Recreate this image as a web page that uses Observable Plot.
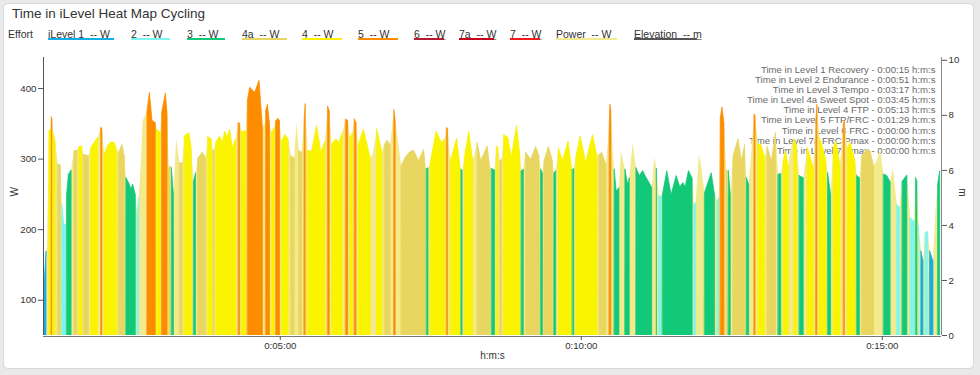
<!DOCTYPE html>
<html><head><meta charset="utf-8">
<script src="https://cdn.jsdelivr.net/npm/d3@7"></script>
<script src="https://cdn.jsdelivr.net/npm/@observablehq/plot@0.6"></script>
<style>
html,body{margin:0;padding:0;background:#e9e9e9;}
body{width:980px;height:375px;overflow:hidden;position:relative;font-family:"Liberation Sans",Arial,sans-serif;}
#card{position:absolute;left:3px;top:3px;width:969px;height:364px;background:#fff;border:1px solid #d8d8d8;border-radius:5px;}
#header{position:absolute;left:0;top:0;width:980px;height:48px;}
#title{position:absolute;left:12px;top:6px;font-size:13.5px;color:#333;white-space:pre;}
.leg{position:absolute;top:28px;font-size:10.5px;color:#333;white-space:pre;}
.leg span{text-decoration:underline;text-decoration-color:#888;}
.bar{position:absolute;top:38px;height:2px;}
#chart{position:absolute;left:0;top:48px;}
</style></head>
<body>
<div id="card"></div>
<div id="header"><div id="title">Time in iLevel Heat Map Cycling</div></div>
<div id="chart"></div>
<script>
// ---- data ----
const sec = [65,67,68,70,71.5,72.3,73,74,76,78.7,81.3,82.7,84.7,86.7,87.5,89.3,92,93.3,95,97.7,100,102.7,104.3,109.3,111.7,115,118.3,121.7,122.7,125,128.3,131.7,135,137.3,139.3,142.7,145,146.7,149.3,151.7,153.3,156,157.7,159.3,161.7,163.3,167.7,170,172.7,176,177.3,180.7,182.3,186,187.7,189.3,190.5,192,194,196.7,200,202.7,205,209.3,211.7,214,216,218.3,222.7,226,228.3,231.7,233.3,234.5,236,240,242.7,245,247.3,250,252.7,256,258.7,260,261.7,266,267.7,270,275,279.3,282.7,285,286,287.7,289.7,291.7,294.3,296,298.3,299.7,301.7,305,308.3,311,314.3,316.7,319,321.7,324.3,325.3,327.7,331.7,336.7,341,345,347.7,349.3,351.7,355.7,359,362.3,365.7,367.7,370,372.3,374.3,376,378.3,383.3,390,392.5,396.7,401.7,404.3,406.7,410,413.7,415,417.3,421,425,429,433.3,438.3,443.3,445,446.3,447.7,450,455.7,461,464.3,466.3,467.3,470,476.3,479.7,480.7,481.7,484,488.3,492.3,496.7,500.3,506.7,509,511,514,516,517.3,519.3,521,523.3,527.3,530.7,536,539.3,540.7,542.7,545,550,555,558.3,560,561.7,563.3,567.7,571.7,573.3,575,577.7,581.7,587.3,590.7,591.7,593,595,599.3,605,608.3,611.7,616,618.3,620.7,625,628.3,629,630,631.7,633.3,635.3,638,640,644,646.7,648.3,651.7,655,658.3,661.7,664,667.3,670.7,673.3,675.3,677.7,680,681.3,685.7,690,695,698.7,701.7,704,707.3,711,712.7,714.5,717.7,720,723.3,730,733.3,736,737.5,739,740.7,742.7,745,747,749,751.7,756.7,760,763.3,765,767.3,770,772.7,773.7,776.7,779.3,783.3,785.7,790,794,796.7,799.3,801.7,804,806.7,809.5,812.3,815,817.7,821.7,825.7,831.7,834.3,835.3,837.7,841,844.3,846,849,851.7,854.3,858.3,861.7,862.7,865.7,868.3,873.3,875,877.7,880,885,888.3,891.7,895,898.3,901.7,905,908.3,911,915,917.7,920.3,925,928.3,932.3,933.7,935,936.7,939,941,943.3,945.7,947.7,951,953.5,955.7,957.7];
const watts = [122,169,174,340,342,359,356,337,325,292,291,235,207,207,249,278,284,297,311,312,317,318,306,304,316,323,330,344,343,306,318,324,323,313,309,320,304,273,266,257,264,249,221,245,297,353,368,394,354,351,342,337,366,393,363,287,290,287,249,328,294,294,332,337,316,268,280,301,309,302,331,328,311,313,323,332,323,339,330,342,316,328,351,350,339,339,383,401,394,411,344,349,368,377,349,337,344,354,357,354,325,334,328,304,301,351,311,309,356,378,311,311,347,309,325,374,368,320,328,323,337,356,354,330,337,356,351,320,342,302,305,342,309,320,326,320,369,354,330,290,302,309,312,297,313,288,286,287,294,339,323,328,344,342,297,329,287,285,283,302,339,297,323,297,318,290,286,284,318,316,297,299,334,330,302,347,304,283,285,309,299,317,304,285,280,297,317,297,280,283,315,297,325,287,285,286,302,332,294,316,334,304,306,309,292,344,377,367,313,285,254,259,311,285,263,273,323,287,276,283,276,268,259,302,286,247,247,249,283,249,276,260,266,260,283,272,235,238,306,290,252,280,249,240,245,358,373,350,283,283,249,304,328,297,320,273,264,311,363,360,321,320,302,317,297,337,278,279,297,311,290,315,328,320,276,273,316,287,354,377,330,316,297,280,249,316,325,292,349,354,316,323,297,276,273,304,313,311,290,297,313,278,276,267,287,235,231,268,277,216,211,273,268,205,169,155,195,197,169,155,226,264,283];
const zone = ["1","1","P","4","4","5","5","4","4","4a","4a","2","2","2","3","3","3","P","4a","4a","4","4","4a","4a","4","4","4","5","5","4","4","4","4","4","4a","4a","4a","3","3","3","3","3","2","2","P","P","5","5","5","5","4","4","5","5","5","4a","4a","3","3","P","4a","4a","4","4","4","3","3","4a","4a","4a","4","4","4a","4a","4","4","4","4","4","4","4","4","5","5","4","4","5","5","5","5","5","P","5","5","5","4","4","5","5","5","4","4","4","4a","4a","P","4a","4a","5","5","4","4","4","4","4","5","5","4","4","4","4","5","5","4","4","5","5","4","4","4","P","4","4","4a","4a","4a","5","5","P","4a","4a","4a","4a","4a","4a","4a","3","3","4","4","4","4","5","5","4","4","4","3","3","4","4","4","4a","4a","4a","4a","3","3","4","4","4a","4a","4","4","4","4","4","3","3","4a","4a","4a","4a","3","3","4a","4a","4a","3","3","4","4","4","4","3","3","4","4","4","4","4","4","4a","4a","4a","5","5","5","P","3","3","3","P","3","3","3","P","3","3","3","3","3","3","P","3","2","2","3","3","3","3","3","3","3","3","3","2","2","P","P","3","3","3","2","2","5","5","5","4a","3","3","4a","4a","4a","4a","3","3","P","5","5","4","4","4","4a","4a","4a","3","3","4","4","4","P","4","4","3","3","4","4","5","5","4","4","4","3","3","4","4","4","5","5","4","4","4","3","3","4a","4a","4a","4a","P","P","3","3","3","P","2","2","3","3","2","2","3","3","2","1","1","2","2","1","1","P","3","3"];

const zoneColors = {"1":"#14aee6","2":"#7ef6ef","3":"#12c97a","4a":"#e8d660","4":"#faf400","5":"#fd8c00","6":"#b51a30","7a":"#c4001a","7":"#f01a1a"};
const powerColor = "#f2ea8c";
const legendLabels = ["iLevel 1  -- W","2  -- W","3  -- W","4a  -- W","4  -- W","5  -- W","6  -- W","7a  -- W","7  -- W","Power  -- W","Elevation  -- m"];
const legendColors = ["#14aee6","#7ef6ef","#12c97a","#e8d660","#fff200","#fd8c00","#b51a30","#c4001a","#f01a1a","#f2ea8c","#555555"];
const summaryLabels = ["Time in Level 1 Recovery","Time in Level 2 Endurance","Time in Level 3 Tempo","Time in Level 4a Sweet Spot","Time in Level 4 FTP","Time in Level 5 FTP/FRC","Time in Level 6 FRC","Time in Level 7a FRC/Pmax","Time in Level 7 Pmax"];
const summaryTimes = ["0:00:15","0:00:51","0:03:17","0:03:45","0:05:13","0:01:29","0:00:00","0:00:00","0:00:00"];
const wTicks = [100,200,300,400];
const elevTicks = [0,2,4,6,8,10];
const timeTicks = [300,600,900];
const xDomain = [64,959];
const wDomain = [50,444];

// ---- legend (HTML) ----
const legLeft = [48,131,187,242,302,358,414,459,510,556,634];
const legBar = [66,39,38,45,40,40,30,35,30,61,63];
const header = document.getElementById("header");
const eff = document.createElement("div");
eff.className = "leg"; eff.style.left = "8px"; eff.textContent = "Effort";
header.appendChild(eff);
legendLabels.forEach((lab, i) => {
  const d = document.createElement("div");
  d.className = "leg"; d.style.left = legLeft[i] + "px";
  const s = document.createElement("span"); s.textContent = lab; d.appendChild(s);
  header.appendChild(d);
  const b = document.createElement("div");
  b.className = "bar"; b.style.left = legLeft[i] + "px"; b.style.width = legBar[i] + "px";
  b.style.background = legendColors[i];
  header.appendChild(b);
});

// ---- build series ----
const pts = sec.map((t, i) => ({t, w: watts[i], z: zone[i]}));
let run = 0;
pts.forEach((p, i) => { if (i > 0 && p.z !== pts[i-1].z) run++; p.run = run; p.color = zoneColors[p.z] || null; });
const colored = pts.filter(p => p.z !== "P");

const hms = s => `${Math.floor(s/3600)}:${String(Math.floor(s%3600/60)).padStart(2,"0")}:${String(Math.round(s%60)).padStart(2,"0")}`;
const elevToW = e => wDomain[0] + e * 39;
const summary = summaryLabels.map((l, i) => `${l} - ${summaryTimes[i]} h:m:s`).join("\n");

const chart = Plot.plot({
  width: 980, height: 327,
  marginLeft: 43, marginRight: 39, marginTop: 9, marginBottom: 40,
  x: {domain: xDomain},
  y: {domain: wDomain},
  color: {type: "identity"},
  style: {fontFamily: "'Liberation Sans', Arial, sans-serif", fontSize: "9.7px", color: "#333", background: "transparent", overflow: "visible"},
  marks: [
    Plot.text([summary], {text: d => d, frameAnchor: "top-right", dx: -6, dy: 8, lineAnchor: "top", textAnchor: "end", fontSize: 9.6, lineHeight: 1.057, fill: "#6a6a6a"}),
    Plot.areaY(pts, {x: "t", y: "w", fill: powerColor, clip: true}),
    Plot.areaY(colored, {x: "t", y: "w", z: "run", fill: "color", stroke: "color", strokeWidth: 0.7, clip: true}),
    Plot.ruleX([xDomain[0]], {stroke: "#555"}),
    Plot.ruleX([xDomain[1]], {stroke: "#888"}),
    Plot.ruleY([wDomain[0]], {stroke: "#777", dy: 1}),
    Plot.axisY(wTicks, {anchor: "left", tickSize: 5, tickPadding: 2, label: null, stroke: "#555", fill: "#333"}),
    Plot.axisY(elevTicks.map(elevToW), {anchor: "right", tickSize: 5, tickPadding: 2, label: null, tickFormat: d => String(Math.round((d - wDomain[0]) / 39)), stroke: "#555", fill: "#333"}),
    Plot.axisX(timeTicks, {anchor: "bottom", tickSize: 4, tickPadding: 2, label: null, tickFormat: hms, stroke: "#555", fill: "#333", dy: 1}),
    Plot.text(["W"], {text: d => d, frameAnchor: "left", dx: -29, rotate: -90, fontSize: 10, fill: "#333"}),
    Plot.text(["m"], {text: d => d, frameAnchor: "right", dx: 21, rotate: 90, fontSize: 10, fill: "#333"}),
    Plot.text(["h:m:s"], {text: d => d, frameAnchor: "bottom", dy: 23, fontSize: 10, fill: "#333"})
  ]
});
document.getElementById("chart").appendChild(chart);
</script>
</body></html>
